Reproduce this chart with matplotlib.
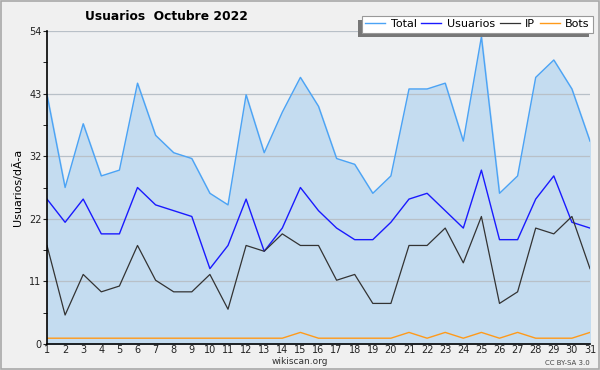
import numpy as np
import matplotlib
matplotlib.use('Agg')
import matplotlib.pyplot as plt
import matplotlib.patheffects as pe
from matplotlib.patches import Rectangle

# Daily values, October 2022
days = list(range(1, 32))
total = [43, 27, 38, 29, 30, 45, 36, 33, 32, 26, 24, 43, 33, 40, 46, 41,
         32, 31, 26, 29, 44, 44, 45, 35, 53, 26, 29, 46, 49, 44, 35]
usuarios = [25, 21, 25, 19, 19, 27, 24, 23, 22, 13, 17, 25, 16, 20, 27, 23,
            20, 18, 18, 21, 25, 26, 23, 20, 30, 18, 18, 25, 29, 21, 20]
ip = [17, 5, 12, 9, 10, 17, 11, 9, 9, 12, 6, 17, 16, 19, 17, 17,
      11, 12, 7, 7, 17, 17, 20, 14, 22, 7, 9, 20, 19, 22, 13]
bots = [1, 1, 1, 1, 1, 1, 1, 1, 1, 1, 1, 1, 1, 1, 2, 1,
        1, 1, 1, 1, 2, 1, 2, 1, 2, 1, 2, 1, 1, 1, 2]

ymax = 54
ytick_labels = ['0', '11', '22', '32', '43', '54']

fig = plt.figure(figsize=(6, 3.7), dpi=100, facecolor='#f0f0f0')
ax = fig.add_axes([47 / 600, 26 / 370, 543 / 600, 313 / 370])
ax.set_facecolor('#eef0f2')

# Border round the whole image
fig.patches.append(Rectangle((0.001, 0.002), 0.997, 0.995, transform=fig.transFigure,
                             fill=False, edgecolor='#a8a8a8', linewidth=1.2))

ax.fill_between(days, total, 0, color='#c4dcf0', zorder=1)
ax.plot(days, total, color='#4ba3f5', lw=1, label='Total', zorder=3)
ax.plot(days, usuarios, color='#1a1aff', lw=1, label='Usuarios', zorder=3)
ax.plot(days, ip, color='#333333', lw=0.9, label='IP', zorder=3)
ax.plot(days, bots, color='#ff9a1a', lw=1, label='Bots', zorder=3)

ax.set_xlim(1, 31)
ax.set_ylim(0, ymax)
major = np.linspace(0, ymax, 6)
ax.set_yticks(major)
ax.set_yticklabels(ytick_labels)
ax.set_yticks(major[:-1] + ymax / 10, minor=True)
ax.set_xticks(days)
ax.grid(axis='y', which='major', color='#b8c0c8', lw=0.9, zorder=2)
ax.set_axisbelow(False)

for s in ['top', 'right']:
    ax.spines[s].set_visible(False)
for s in ['left', 'bottom']:
    ax.spines[s].set_linewidth(1.2)
    ax.spines[s].set_zorder(4)

ax.tick_params(axis='both', labelsize=7, colors='#222222', length=3, pad=1)
ax.tick_params(axis='y', which='minor', length=3)
ax.tick_params(axis='x', length=0, pad=1)

ax.set_ylabel('Usuarios/dÃ-a', fontsize=8, labelpad=4)
fig.text(85 / 600, 1 - 17 / 370, 'Usuarios  Octubre 2022', fontsize=8.8,
         fontweight='bold', va='center', ha='left')

leg = ax.legend(loc='upper right', bbox_to_anchor=(593 / 600, 1 - 16 / 370),
                bbox_transform=fig.transFigure, ncol=4, fontsize=8,
                handlelength=1.8, handletextpad=0.5, columnspacing=0.4,
                borderpad=0.3, fancybox=False, framealpha=1, borderaxespad=0)
frame = leg.get_frame()
frame.set_facecolor('white')
frame.set_edgecolor('#999999')
frame.set_linewidth(0.8)
frame.set_path_effects([pe.SimplePatchShadow(offset=(-3, -3), shadow_rgbFace='#777777', alpha=1),
                        pe.Normal()])

fig.text(300 / 600, 1 - 362 / 370, 'wikiscan.org', fontsize=6.5, ha='center',
         va='center', color='#333333')
fig.text(590 / 600, 1 - 363 / 370, 'CC BY-SA 3.0', fontsize=5, ha='right',
         va='center', color='#444444')

fig.savefig('out.png', dpi=100, facecolor=fig.get_facecolor())
